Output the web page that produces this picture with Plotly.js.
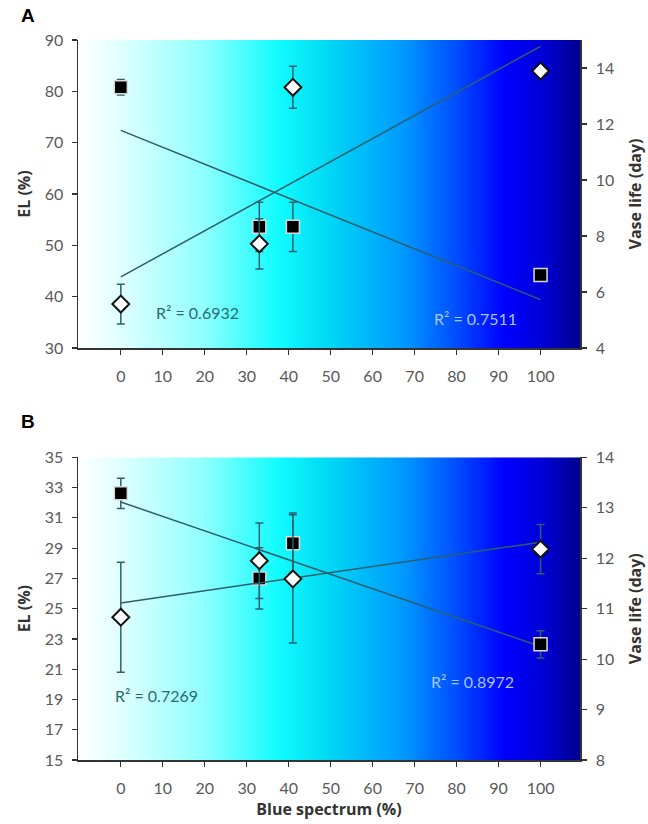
<!DOCTYPE html>
<html>
<head>
<meta charset="utf-8">
<script src="https://cdn.plot.ly/plotly-3.0.1.min.js"></script>
<style>html,body{margin:0;padding:0;background:#fff;}#chart{width:648px;height:824px;}</style>
</head>
<body>
<div id="chart"></div>
<script>
// ---- data ----
const blueSpectrum = [0, 33, 41, 100];
// Panel A
const elA = [80.8, 53.6, 53.6, 44.2];
const elA_err = [1.5, 4.8, 4.8, 0.5];
const vaseA = [5.57, 7.72, 13.31, 13.89];
const vaseA_err = [0.71, 0.9, 0.75, 0.15];
const r2A_vase = "R² = 0.6932";
const r2A_el = "R² = 0.7511";
// Panel B
const elB = [32.62, 27.0, 29.32, 22.64];
const elB_err = [1.0, 2.03, 2.0, 0.9];
const vaseB = [10.83, 11.95, 11.59, 12.18];
const vaseB_err = [1.09, 0.75, 1.27, 0.49];
const r2B_vase = "R² = 0.7269";
const r2B_el = "R² = 0.8972";
const xTicks = [0, 10, 20, 30, 40, 50, 60, 70, 80, 90, 100];

// ---- helpers ----
function fit(x, y) {
  const n = x.length;
  const mx = x.reduce((a, b) => a + b, 0) / n;
  const my = y.reduce((a, b) => a + b, 0) / n;
  let sxy = 0, sxx = 0;
  for (let i = 0; i < n; i++) { sxy += (x[i] - mx) * (y[i] - my); sxx += (x[i] - mx) ** 2; }
  const b = sxy / sxx, a = my - b * mx;
  const x0 = Math.min(...x), x1 = Math.max(...x);
  return { x: [x0, x1], y: [a + b * x0, a + b * x1] };
}

const lineCol = '#2c5f6c';
const errCol = '#2a6272';
const font = 'Lato, "Open Sans", sans-serif';
const boldFont = '"Open Sans", "Noto Sans", sans-serif';

function trend(x, y, xa, ya) {
  const f = fit(x, y);
  return { x: f.x, y: f.y, xaxis: xa, yaxis: ya, mode: 'lines', type: 'scatter',
    line: { color: lineCol, width: 1.5 }, hoverinfo: 'skip', showlegend: false };
}
function diamonds(x, y, e, xa, ya) {
  return { x: x, y: y, xaxis: xa, yaxis: ya, mode: 'markers', type: 'scatter', showlegend: false,
    marker: { symbol: 'diamond', size: 13, color: '#ffffff', line: { color: '#111111', width: 2 } },
    error_y: { type: 'data', array: e, visible: true, color: errCol, thickness: 1.5, width: 4 } };
}
function squares(x, y, e, xa, ya) {
  return { x: x, y: y, xaxis: xa, yaxis: ya, mode: 'markers', type: 'scatter', showlegend: false,
    marker: { symbol: 'square', size: 13, color: '#000000', line: { color: '#d9d9d9', width: 1.5 } },
    error_y: { type: 'data', array: e, visible: true, color: errCol, thickness: 1.5, width: 4 } };
}

const traces = [
  trend(blueSpectrum, vaseA, 'x', 'y2'),
  trend(blueSpectrum, elA, 'x', 'y'),
  diamonds(blueSpectrum, vaseA, vaseA_err, 'x', 'y2'),
  squares(blueSpectrum, elA, elA_err, 'x', 'y'),
  trend(blueSpectrum, vaseB, 'x2', 'y4'),
  trend(blueSpectrum, elB, 'x2', 'y3'),
  diamonds(blueSpectrum, vaseB, vaseB_err, 'x2', 'y4'),
  squares(blueSpectrum, elB, elB_err, 'x2', 'y3')
];

// gradient background as SVG image
const gradSvg = '<svg xmlns="http://www.w3.org/2000/svg" width="502" height="300" preserveAspectRatio="none">' +
  '<defs><linearGradient id="g" x1="0" y1="0" x2="1" y2="0">' +
  '<stop offset="0" stop-color="#ffffff"/>' +
  '<stop offset="0.08" stop-color="#e2ffff"/>' +
  '<stop offset="0.25" stop-color="#90ffff"/>' +
  '<stop offset="0.40" stop-color="#10fcfe"/>' +
  '<stop offset="0.50" stop-color="#00d8f4"/>' +
  '<stop offset="0.65" stop-color="#0098ff"/>' +
  '<stop offset="0.75" stop-color="#0050ff"/>' +
  '<stop offset="0.85" stop-color="#0000ff"/>' +
  '<stop offset="0.93" stop-color="#0000d4"/>' +
  '<stop offset="1" stop-color="#00008e"/>' +
  '</linearGradient></defs><rect width="502" height="300" fill="url(#g)"/></svg>';
const gradUri = 'data:image/svg+xml;base64,' + btoa(gradSvg);

const xRange = [-10.2, 109.4];
const tickFont = { family: font, size: 16, color: '#595959' };
const titleFont = { family: boldFont, size: 16, color: '#333333' };

function xAxis(anchor, withTitle) {
  const ax = { range: xRange, anchor: anchor, tickvals: xTicks, ticks: 'outside', ticklen: 5, tickwidth: 1.2,
    tickcolor: '#333', showline: true, linecolor: '#333', linewidth: 1.5, showgrid: false, zeroline: false,
    tickfont: tickFont, ticklabelstandoff: 8 };
  if (withTitle) ax.title = { text: '<b>Blue spectrum (%)</b>', font: titleFont, standoff: 8 };
  return ax;
}
function yLeft(domain, range, dtick, anchor, title) {
  return { domain: domain, range: range, dtick: dtick, tick0: range[0], anchor: anchor, ticks: 'outside', ticklen: 5,
    tickwidth: 1.2, tickcolor: '#333', showline: true, linecolor: '#333', linewidth: 1.5, showgrid: false,
    zeroline: false, tickfont: tickFont, ticklabelstandoff: 5, title: { text: '<b>' + title + '</b>', font: titleFont, standoff: 10 } };
}
function yRight(overlay, range, dtick, anchor, title) {
  return { overlaying: overlay, side: 'right', range: range, dtick: dtick, tick0: range[0], anchor: anchor,
    ticks: 'outside', ticklen: 5, tickwidth: 1.2, tickcolor: '#333', showline: true, linecolor: '#333',
    linewidth: 1.5, showgrid: false, zeroline: false, tickfont: tickFont, ticklabelstandoff: 6,
    title: { text: '<b>' + title + '</b>', font: titleFont, standoff: 16 } };
}

const domA = [0.5722, 1.0];
const domB = [0.0, 0.4204];

const layout = {
  width: 648, height: 824,
  margin: { l: 78, r: 68, t: 40, b: 64 },
  paper_bgcolor: '#ffffff', plot_bgcolor: 'rgba(0,0,0,0)',
  showlegend: false,
  font: { family: font },
  xaxis: xAxis('y', false),
  xaxis2: xAxis('y3', true),
  yaxis: yLeft(domA, [30, 90], 10, 'x', 'EL (%)'),
  yaxis2: yRight('y', [4, 15], 2, 'x', 'Vase life (day)'),
  yaxis3: yLeft(domB, [15, 35], 2, 'x2', 'EL (%)'),
  yaxis4: yRight('y3', [8, 14], 1, 'x2', 'Vase life (day)'),
  images: [
    { source: gradUri, xref: 'x domain', yref: 'y domain', x: 0, y: 1, sizex: 1, sizey: 1,
      sizing: 'stretch', layer: 'below', xanchor: 'left', yanchor: 'top' },
    { source: gradUri, xref: 'x2 domain', yref: 'y3 domain', x: 0, y: 1, sizex: 1, sizey: 1,
      sizing: 'stretch', layer: 'below', xanchor: 'left', yanchor: 'top' }
  ],
  annotations: [
    { text: '<b>A</b>', xref: 'paper', yref: 'paper', x: -0.118, y: 1.052, xanchor: 'left', yanchor: 'top',
      showarrow: false, font: { family: 'Liberation Sans, Arial, sans-serif', size: 19, color: '#000' } },
    { text: '<b>B</b>', xref: 'paper', yref: 'paper', x: -0.118, y: 0.488, xanchor: 'left', yanchor: 'top',
      showarrow: false, font: { family: 'Liberation Sans, Arial, sans-serif', size: 19, color: '#000' } },
    { text: r2A_vase, xref: 'x', yref: 'y', x: 18.2, y: 37.0, showarrow: false,
      font: { family: font, size: 16, color: '#2b6a70' } },
    { text: r2A_el, xref: 'x', yref: 'y', x: 84.5, y: 35.8, showarrow: false,
      font: { family: font, size: 16, color: '#a6c4ff' } },
    { text: r2B_vase, xref: 'x2', yref: 'y3', x: 8.6, y: 19.24, showarrow: false,
      font: { family: font, size: 16, color: '#2b6a70' } },
    { text: r2B_el, xref: 'x2', yref: 'y3', x: 83.7, y: 20.17, showarrow: false,
      font: { family: font, size: 16, color: '#a6c4ff' } }
  ]
};

Plotly.newPlot('chart', traces, layout, { displayModeBar: false, staticPlot: true });
</script>
</body>
</html>
